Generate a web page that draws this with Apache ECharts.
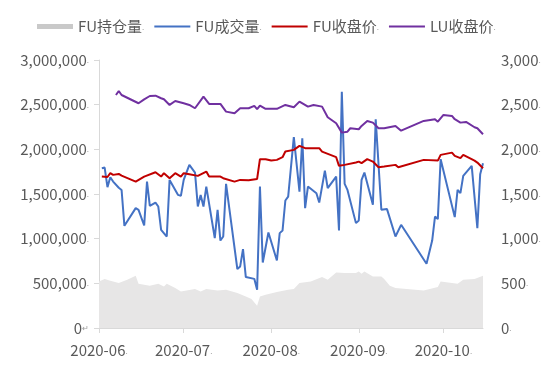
<!DOCTYPE html>
<html>
<head>
<meta charset="utf-8">
<script src="https://cdn.jsdelivr.net/npm/echarts@6/dist/echarts.min.js"></script>
<style>
    html, body { margin: 0; padding: 0; background: #fff; }
    #chart { width: 550px; height: 367px; }
</style>
</head>
<body>
<div id="chart"></div>
<script>
    // 持仓量 / 成交量 (左轴), 收盘价 (右轴)
    const fuOpenInterest = [
        ['2020-06-01', 521000], ['2020-06-03', 548000], ['2020-06-05', 529000], ['2020-06-08', 503000],
        ['2020-06-11', 540000], ['2020-06-14', 585000], ['2020-06-15', 495000], ['2020-06-19', 473000],
        ['2020-06-22', 495000], ['2020-06-24', 465000], ['2020-06-25', 495000], ['2020-06-28', 447000],
        ['2020-06-30', 409000], ['2020-07-05', 436000], ['2020-07-07', 409000], ['2020-07-09', 436000],
        ['2020-07-13', 420000], ['2020-07-16', 428000], ['2020-07-20', 391000], ['2020-07-23', 353000],
        ['2020-07-25', 324000], ['2020-07-27', 249000], ['2020-07-28', 353000], ['2020-07-30', 372000],
        ['2020-08-03', 403000], ['2020-08-07', 428000], ['2020-08-09', 436000], ['2020-08-11', 503000],
        ['2020-08-15', 521000], ['2020-08-19', 570000], ['2020-08-21', 540000], ['2020-08-24', 622000],
        ['2020-08-27', 615000], ['2020-08-31', 615000], ['2020-09-01', 633000], ['2020-09-02', 607000],
        ['2020-09-03', 633000], ['2020-09-06', 577000], ['2020-09-09', 577000], ['2020-09-10', 548000],
        ['2020-09-12', 473000], ['2020-09-14', 447000], ['2020-09-24', 420000], ['2020-09-29', 458000],
        ['2020-09-30', 521000], ['2020-10-06', 495000], ['2020-10-08', 540000], ['2020-10-12', 548000],
        ['2020-10-15', 585000]
    ]
    const fuVolume = [
        ['2020-06-02', 1789000], ['2020-06-03', 1796000], ['2020-06-04', 1577000], ['2020-06-05', 1688000],
        ['2020-06-06', 1639000], ['2020-06-08', 1570000], ['2020-06-09', 1545000], ['2020-06-10', 1144000],
        ['2020-06-14', 1342000], ['2020-06-15', 1323000], ['2020-06-17', 1147000], ['2020-06-18', 1639000],
        ['2020-06-19', 1367000], ['2020-06-21', 1404000], ['2020-06-22', 1360000], ['2020-06-23', 1099000],
        ['2020-06-25', 1024000], ['2020-06-26', 1658000], ['2020-06-29', 1490000], ['2020-06-30', 1479000],
        ['2020-07-01', 1658000], ['2020-07-03', 1826000], ['2020-07-05', 1740000], ['2020-07-06', 1360000],
        ['2020-07-07', 1490000], ['2020-07-08', 1360000], ['2020-07-09', 1583000], ['2020-07-12', 1006000],
        ['2020-07-13', 1323000], ['2020-07-14', 979000], ['2020-07-15', 1024000], ['2020-07-16', 1613000],
        ['2020-07-20', 660000], ['2020-07-21', 689000], ['2020-07-22', 883000], ['2020-07-23', 570000],
        ['2020-07-26', 550000], ['2020-07-27', 428000], ['2020-07-28', 1583000], ['2020-07-29', 733000],
        ['2020-07-31', 1069000], ['2020-08-03', 756000], ['2020-08-04', 1062000], ['2020-08-05', 1091000],
        ['2020-08-06', 1427000], ['2020-08-07', 1471000], ['2020-08-09', 2136000], ['2020-08-11', 1527000],
        ['2020-08-12', 2124000], ['2020-08-13', 1342000], ['2020-08-14', 1583000], ['2020-08-17', 1509000],
        ['2020-08-18', 1404000], ['2020-08-20', 1762000], ['2020-08-21', 1565000], ['2020-08-24', 1695000],
        ['2020-08-25', 1091000], ['2020-08-26', 2645000], ['2020-08-27', 1613000], ['2020-08-28', 1546000],
        ['2020-08-31', 1174000], ['2020-09-01', 1203000], ['2020-09-02', 1658000], ['2020-09-03', 1740000],
        ['2020-09-06', 1379000], ['2020-09-07', 2337000], ['2020-09-09', 1323000], ['2020-09-11', 1331000],
        ['2020-09-14', 1024000], ['2020-09-16', 1155000], ['2020-09-25', 719000], ['2020-09-27', 979000],
        ['2020-09-28', 1248000], ['2020-09-29', 1219000], ['2020-09-30', 1890000], ['2020-10-05', 1241000],
        ['2020-10-06', 1546000], ['2020-10-07', 1509000], ['2020-10-08', 1703000], ['2020-10-11', 1815000],
        ['2020-10-13', 1118000], ['2020-10-14', 1720000], ['2020-10-15', 1845000]
    ]
    const fuClose = [
        ['2020-06-02', 1695], ['2020-06-04', 1690], ['2020-06-05', 1733], ['2020-06-06', 1714],
        ['2020-06-08', 1725], ['2020-06-09', 1706], ['2020-06-14', 1639], ['2020-06-17', 1695],
        ['2020-06-21', 1744], ['2020-06-23', 1695], ['2020-06-24', 1733], ['2020-06-26', 1677],
        ['2020-06-28', 1733], ['2020-06-30', 1695], ['2020-07-01', 1733], ['2020-07-03', 1722],
        ['2020-07-06', 1703], ['2020-07-09', 1751], ['2020-07-10', 1695], ['2020-07-14', 1695],
        ['2020-07-15', 1677], ['2020-07-19', 1639], ['2020-07-21', 1658], ['2020-07-24', 1655],
        ['2020-07-27', 1669], ['2020-07-28', 1890], ['2020-07-30', 1890], ['2020-08-01', 1874],
        ['2020-08-03', 1882], ['2020-08-05', 1912], ['2020-08-06', 1975], ['2020-08-09', 1994],
        ['2020-08-11', 2038], ['2020-08-13', 2013], ['2020-08-18', 2013], ['2020-08-19', 1975],
        ['2020-08-24', 1912], ['2020-08-25', 1815], ['2020-08-27', 1826], ['2020-08-31', 1852],
        ['2020-09-01', 1863], ['2020-09-02', 1845], ['2020-09-04', 1890], ['2020-09-06', 1863],
        ['2020-09-08', 1800], ['2020-09-10', 1807], ['2020-09-14', 1826], ['2020-09-15', 1800],
        ['2020-09-24', 1882], ['2020-09-29', 1874], ['2020-09-30', 1938], ['2020-10-04', 1963],
        ['2020-10-05', 1926], ['2020-10-07', 1901], ['2020-10-08', 1938], ['2020-10-12', 1874],
        ['2020-10-13', 1852], ['2020-10-15', 1789]
    ]
    const luClose = [
        ['2020-06-07', 2608], ['2020-06-08', 2653], ['2020-06-09', 2608], ['2020-06-15', 2516],
        ['2020-06-17', 2560], ['2020-06-19', 2597], ['2020-06-21', 2601], ['2020-06-23', 2572],
        ['2020-06-24', 2560], ['2020-06-26', 2497], ['2020-06-28', 2541], ['2020-07-01', 2516],
        ['2020-07-03', 2497], ['2020-07-05', 2460], ['2020-07-08', 2590], ['2020-07-10', 2508],
        ['2020-07-14', 2508], ['2020-07-16', 2422], ['2020-07-19', 2404], ['2020-07-21', 2460],
        ['2020-07-24', 2460], ['2020-07-26', 2486], ['2020-07-27', 2449], ['2020-07-28', 2490],
        ['2020-07-30', 2453], ['2020-08-03', 2453], ['2020-08-06', 2497], ['2020-08-09', 2472],
        ['2020-08-11', 2534], ['2020-08-14', 2478], ['2020-08-16', 2497], ['2020-08-19', 2478],
        ['2020-08-21', 2359], ['2020-08-24', 2292], ['2020-08-26', 2187], ['2020-08-28', 2198],
        ['2020-08-29', 2236], ['2020-09-01', 2225], ['2020-09-02', 2262], ['2020-09-04', 2318],
        ['2020-09-06', 2299], ['2020-09-08', 2236], ['2020-09-10', 2236], ['2020-09-14', 2262],
        ['2020-09-16', 2209], ['2020-09-24', 2318], ['2020-09-28', 2337], ['2020-09-29', 2310],
        ['2020-10-01', 2385], ['2020-10-04', 2374], ['2020-10-05', 2337], ['2020-10-07', 2299],
        ['2020-10-09', 2307], ['2020-10-12', 2247], ['2020-10-13', 2236], ['2020-10-15', 2169]
    ]
    const seriesNames = ['FU持仓量', 'FU成交量', 'FU收盘价', 'LU收盘价']

    const textColor = '#595959'
    const axisColor = '#d9d9d9'
    const fontFamily = '"Noto Sans CJK SC", "Noto Sans", sans-serif'
    // 图例中的细线图标
    const lineIcon = 'path://M0,0 H36 V2 H0 Z'

    function withDot(s) {
        return s + '{d|.}'
    }
    function thousands(v) {
        return String(v).replace(/\B(?=(\d{3})+(?!\d))/g, ',')
    }

    const myChart = echarts.init(document.getElementById('chart'))
    const options = {
        animation: false,
        textStyle: { fontFamily: fontFamily },
        legend: {
            left: 32,
            top: 14,
            itemWidth: 36,
            itemHeight: 5,
            itemGap: 10,
            formatter: (name) => withDot(name),
            textStyle: {
                color: textColor,
                fontSize: 15,
                fontFamily: fontFamily,
                rich: { d: { fontSize: 8, color: '#999' } }
            },
            data: [
                { name: seriesNames[0], icon: 'rect', itemStyle: { color: '#c9c9c9' } },
                { name: seriesNames[1], icon: lineIcon, itemStyle: { color: '#4472c4' } },
                { name: seriesNames[2], icon: lineIcon, itemStyle: { color: '#c00000' } },
                { name: seriesNames[3], icon: lineIcon, itemStyle: { color: '#7030a0' } }
            ]
        },
        grid: {
            left: 99,
            right: 67,
            top: 60,
            bottom: 39
        },
        xAxis: {
            type: 'time',
            min: '2020-06-01',
            max: '2020-10-15',
            minInterval: 28 * 24 * 3600 * 1000,
            maxInterval: 31 * 24 * 3600 * 1000,
            axisLine: { lineStyle: { color: axisColor } },
            axisTick: { show: true, length: 5, lineStyle: { color: axisColor } },
            splitLine: { show: false },
            axisLabel: {
                color: textColor,
                fontSize: 15,
                margin: 15,
                formatter: (value) => {
                    const d = new Date(value)
                    const m = String(d.getMonth() + 1).padStart(2, '0')
                    return withDot(d.getFullYear() + '-' + m)
                },
                rich: { d: { fontSize: 8, color: '#999' } }
            }
        },
        yAxis: [
            {
                type: 'value',
                min: 0,
                max: 3000000,
                interval: 500000,
                axisLine: { show: true, lineStyle: { color: axisColor } },
                axisTick: { show: true, length: 5, lineStyle: { color: axisColor } },
                splitLine: { show: false },
                axisLabel: {
                    color: textColor,
                    fontSize: 15,
                    margin: 10,
                    formatter: (v) => v === 0 ? '0{d|↵}' : withDot(thousands(v)),
                    rich: { d: { fontSize: 8, color: '#999' } }
                }
            },
            {
                type: 'value',
                min: 0,
                max: 3000,
                interval: 500,
                axisLine: { show: false },
                axisTick: { show: false },
                splitLine: { show: false },
                axisLabel: {
                    color: textColor,
                    fontSize: 15,
                    margin: 18,
                    formatter: (v) => withDot(thousands(v)),
                    rich: { d: { fontSize: 8, color: '#999' } }
                }
            }
        ],
        series: [
            {
                name: seriesNames[0],
                type: 'line',
                yAxisIndex: 0,
                symbol: 'none',
                data: fuOpenInterest,
                lineStyle: { width: 0, color: '#e7e6e6' },
                itemStyle: { color: '#c9c9c9' },
                areaStyle: { color: '#e7e6e6', opacity: 1 }
            },
            {
                name: seriesNames[1],
                type: 'line',
                yAxisIndex: 0,
                symbol: 'none',
                data: fuVolume,
                lineStyle: { width: 2, color: '#4472c4' },
                itemStyle: { color: '#4472c4' }
            },
            {
                name: seriesNames[2],
                type: 'line',
                yAxisIndex: 1,
                symbol: 'none',
                data: fuClose,
                lineStyle: { width: 2, color: '#c00000' },
                itemStyle: { color: '#c00000' }
            },
            {
                name: seriesNames[3],
                type: 'line',
                yAxisIndex: 1,
                symbol: 'none',
                data: luClose,
                lineStyle: { width: 2, color: '#7030a0' },
                itemStyle: { color: '#7030a0' }
            }
        ]
    }
    myChart.setOption(options)
    window.addEventListener('resize', myChart.resize)
</script>
</body>
</html>
